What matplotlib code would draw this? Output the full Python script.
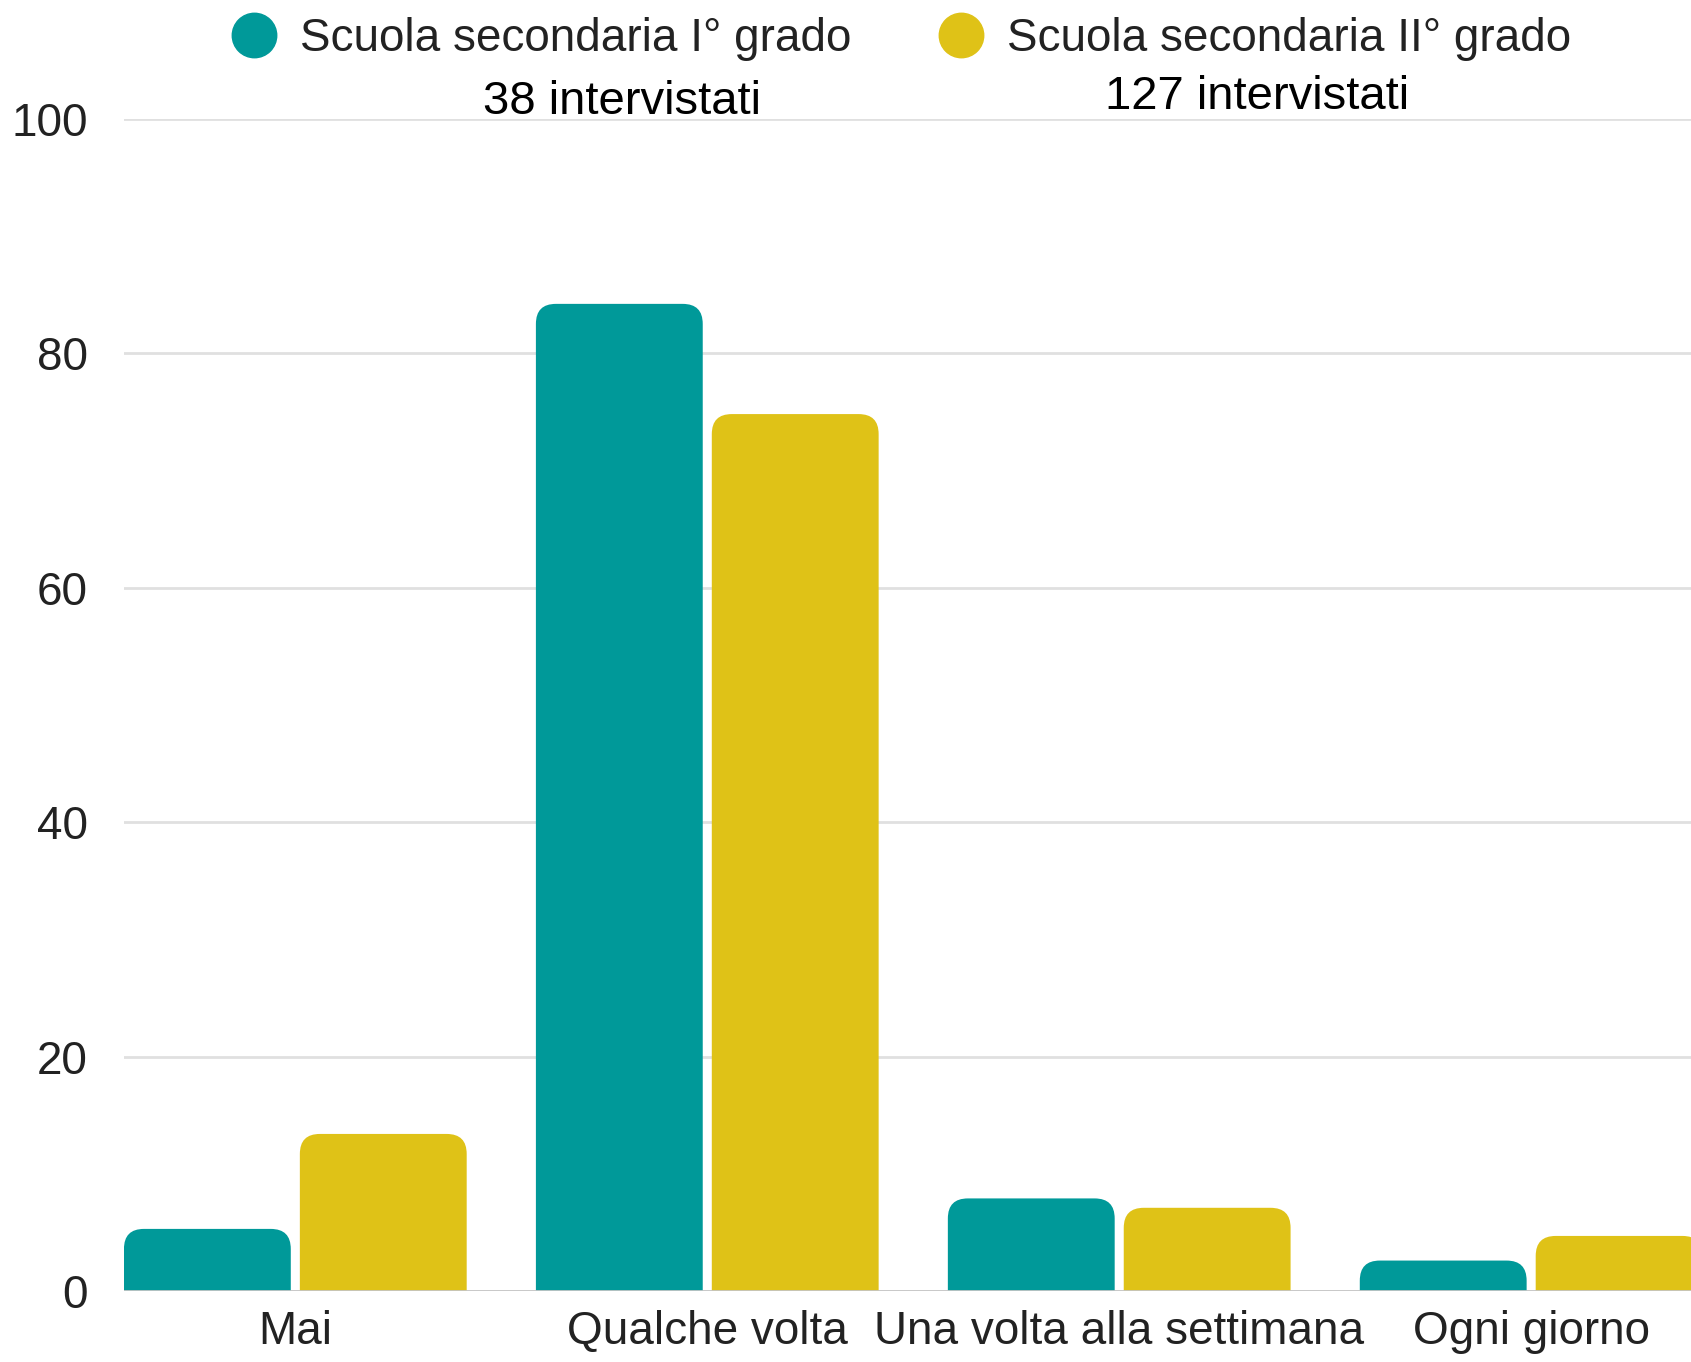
import numpy as np
import matplotlib.pyplot as plt
from matplotlib.patches import FancyBboxPatch
from matplotlib.lines import Line2D

plt.rcParams['font.family'] = ['Liberation Sans', 'DejaVu Sans']

categorie = ['Mai', 'Qualche volta', 'Una volta alla settimana', 'Ogni giorno']
serie = ['Scuola secondaria I° grado', 'Scuola secondaria II° grado']
intervistati = ['38 intervistati', '127 intervistati']
primo_grado = [5.3, 84.2, 7.9, 2.6]     # % su 38
secondo_grado = [13.4, 74.8, 7.1, 4.7]  # % su 127
colori = ['#009999', '#dfc217']

fig = plt.figure(figsize=(16.91, 13.62), dpi=100)
ax = fig.add_axes([0.0733, 0.0521, 0.9267, 0.8608])

x = np.arange(len(categorie))
w = 0.405
off = 0.2135
barre = [ax.bar(x - off, primo_grado, w, color=colori[0]),
         ax.bar(x + off, secondo_grado, w, color=colori[1])]

ax.set_xlim(-0.416, 3.388)
ax.set_ylim(0, 100)

# barre con angoli superiori arrotondati
fig.canvas.draw()
px_x = ax.transData.transform((1, 0))[0] - ax.transData.transform((0, 0))[0]
px_y = ax.transData.transform((0, 1))[1] - ax.transData.transform((0, 0))[1]
aspect = px_x / px_y
r = 20 / px_x
for gruppo, col in zip(barre, colori):
    for rect in gruppo:
        rect.set_visible(False)
        x0, h = rect.get_x(), rect.get_height()
        p = FancyBboxPatch((x0, -3), rect.get_width(), h + 3,
                           boxstyle=f'round,pad=0,rounding_size={r}',
                           mutation_aspect=aspect, fc=col, ec='none', zorder=3)
        ax.add_patch(p)

ax.set_yticks([0, 20, 40, 60, 80, 100])
ax.yaxis.grid(True, color='#e0e0e0', lw=2)
ax.set_axisbelow(True)
ax.axhline(0, color='#c6c6c6', lw=2, zorder=4)
for s in ax.spines.values():
    s.set_visible(False)
ax.set_xticks(x)
ax.set_xticklabels(categorie)
ax.tick_params(axis='both', length=0, labelsize=33, labelcolor='#222222')
ax.tick_params(axis='y', pad=26)
ax.tick_params(axis='x', pad=14)

handles = [Line2D([], [], ls='none', marker='o', ms=32, color=c) for c in colori]
fig.legend(handles, serie, loc='upper center', bbox_to_anchor=(0.533, 1.018), ncol=2,
           frameon=False, fontsize=33, handlelength=1.0, handletextpad=0.5,
           columnspacing=1.9, labelcolor='#222222')

fig.text(622 / 1691, 1 - 102 / 1362, intervistati[0], ha='center', va='center', fontsize=34)
fig.text(1257 / 1691, 1 - 97 / 1362, intervistati[1], ha='center', va='center', fontsize=34)

fig.savefig('out.png', dpi=100, facecolor='white')
